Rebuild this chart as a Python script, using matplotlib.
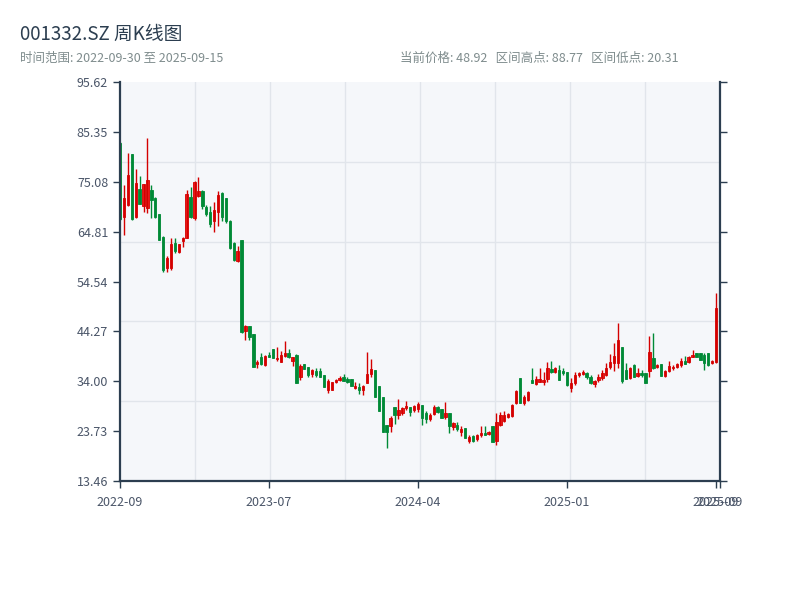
import numpy as np
import matplotlib
matplotlib.use('Agg')
import matplotlib.pyplot as plt

plt.rcParams['font.family'] = ['Noto Sans CJK SC', 'DejaVu Sans']

'''Weekly OHLC read off the chart'''
opens = [83.1, 67.9, 70.3, 80.8, 67.8, 73.5, 70.0, 69.6, 73.4, 71.7,
         68.4, 63.8, 57.3, 57.3, 62.4, 60.7, 62.8, 63.6, 72.0, 67.6,
         72.2, 73.2, 69.9, 68.9, 66.9, 68.9, 72.7, 71.7, 67.0, 62.4,
         58.8, 63.1, 44.4, 45.4, 43.7, 37.5, 39.1, 37.4, 39.5, 40.6,
         38.6, 38.0, 39.2, 39.8, 38.2, 39.4, 34.95, 37.6, 36.9, 35.4,
         36.1, 36.1, 35.3, 32.3, 32.2, 33.9, 34.3, 34.8, 34.5, 34.4,
         32.7, 32.9, 32.1, 33.6, 35.5, 36.3, 33.0, 30.7, 25.0, 24.7,
         28.6, 27.1, 27.5, 28.4, 28.6, 28.1, 28.2, 29.1, 27.5, 26.2,
         27.3, 28.6, 28.2, 26.6, 27.5, 24.5, 25.0, 23.6, 24.3, 21.7,
         22.7, 22.1, 23.0, 23.4, 23.2, 24.7, 21.6, 25.0, 25.9, 26.7,
         26.9, 29.6, 34.6, 29.5, 30.1, 34.3, 33.4, 33.9, 33.9, 34.4,
         36.5, 36.0, 36.3, 36.2, 35.9, 32.6, 33.6, 35.3, 35.5, 35.8,
         34.95, 33.4, 34.3, 34.6, 35.3, 36.9, 37.8, 37.8, 41.1, 36.3,
         34.6, 37.3, 35.1, 35.6, 35.6, 36.2, 38.7, 36.9, 37.5, 35.1,
         36.2, 36.7, 36.9, 37.3, 38.2, 38.0, 39.1, 39.9, 39.9, 39.4,
         39.8, 37.7, 38.0, 48.8]
highs = [83.3, 74.4, 81.1, 80.8, 77.7, 76.3, 74.6, 84.1, 74.4, 72.0,
         68.4, 64.0, 59.8, 63.4, 63.4, 62.3, 63.8, 73.4, 74.1, 75.2,
         76.1, 73.4, 70.3, 70.1, 71.0, 73.2, 73.0, 71.7, 67.2, 62.6,
         61.8, 63.1, 45.6, 45.4, 43.7, 38.4, 39.9, 39.4, 40.0, 40.6,
         41.0, 40.2, 42.3, 40.6, 39.1, 39.6, 37.5, 37.6, 36.9, 36.5,
         36.7, 36.7, 35.3, 34.4, 33.9, 34.4, 35.1, 35.5, 34.95, 34.4,
         33.9, 33.6, 33.2, 40.0, 38.5, 36.3, 33.0, 30.8, 25.0, 26.9,
         28.6, 30.3, 28.6, 30.0, 28.6, 29.1, 29.7, 29.1, 27.9, 27.4,
         29.1, 28.9, 28.3, 29.8, 27.5, 25.7, 25.7, 24.8, 24.3, 22.9,
         22.9, 23.1, 24.7, 24.8, 23.8, 24.7, 27.4, 27.7, 27.9, 27.5,
         29.3, 32.2, 34.6, 31.2, 31.9, 36.7, 35.1, 36.7, 36.0, 38.0,
         38.2, 37.0, 37.4, 36.7, 35.9, 34.6, 36.0, 36.0, 36.3, 36.0,
         35.3, 34.3, 35.4, 36.3, 37.7, 39.6, 41.9, 45.9, 41.1, 37.8,
         36.9, 37.5, 36.7, 36.3, 35.6, 43.3, 44.0, 37.5, 37.5, 36.3,
         38.2, 37.3, 37.7, 38.7, 39.2, 39.2, 40.4, 39.9, 39.9, 39.9,
         39.9, 38.3, 52.1, 50.0]
lows = [67.2, 64.1, 70.1, 67.3, 67.6, 70.4, 68.9, 68.6, 67.7, 67.7,
        63.0, 56.4, 56.6, 56.9, 60.5, 60.5, 61.7, 63.4, 67.6, 67.3,
        72.0, 69.4, 68.0, 65.8, 64.8, 66.0, 67.1, 66.5, 61.2, 58.8,
        58.6, 43.9, 42.5, 42.4, 36.9, 36.7, 37.3, 37.1, 38.9, 38.7,
        38.2, 38.0, 39.1, 38.7, 37.1, 33.6, 34.3, 36.5, 34.8, 34.95,
        34.95, 34.8, 32.8, 31.5, 32.1, 33.6, 34.1, 34.1, 33.7, 33.1,
        32.4, 31.4, 31.1, 33.6, 34.95, 30.8, 27.9, 23.6, 20.31, 23.6,
        25.2, 26.2, 27.1, 28.1, 26.9, 27.7, 27.7, 25.0, 25.5, 25.9,
        27.1, 27.5, 26.4, 26.2, 23.4, 24.0, 23.8, 22.7, 22.3, 21.2,
        21.4, 21.6, 22.6, 22.9, 22.9, 21.4, 20.9, 24.7, 25.7, 26.4,
        26.6, 29.3, 29.6, 29.1, 29.9, 33.6, 33.2, 33.9, 33.2, 33.9,
        35.8, 35.6, 34.3, 35.3, 33.0, 31.7, 33.2, 34.95, 35.3, 34.4,
        33.4, 32.9, 33.9, 34.3, 35.1, 36.5, 36.2, 36.7, 33.7, 34.4,
        34.4, 34.95, 34.95, 34.95, 33.7, 34.95, 36.5, 36.7, 35.1, 34.95,
        36.0, 36.3, 36.7, 37.0, 37.6, 37.8, 38.9, 38.9, 38.4, 36.3,
        37.1, 37.6, 37.8, 48.7]
closes = [67.4, 71.7, 76.5, 67.5, 74.8, 70.5, 74.6, 75.4, 71.3, 67.8,
          63.1, 57.0, 59.4, 62.2, 60.9, 62.3, 63.6, 72.5, 67.8, 75.1,
          73.2, 70.1, 68.4, 66.4, 69.3, 72.4, 67.9, 67.0, 61.5, 59.0,
          60.9, 44.2, 45.4, 43.2, 37.0, 38.0, 37.5, 39.3, 39.1, 38.7,
          38.8, 39.4, 39.8, 39.1, 38.9, 33.7, 37.15, 36.5, 35.3, 36.3,
          35.3, 34.95, 32.8, 34.1, 33.8, 34.3, 34.7, 34.1, 33.9, 33.1,
          33.1, 32.2, 33.1, 35.4, 36.5, 30.8, 27.9, 23.6, 23.6, 26.4,
          27.0, 28.1, 28.4, 28.9, 27.7, 28.9, 29.3, 26.4, 26.2, 27.1,
          28.8, 27.7, 26.5, 27.5, 24.7, 25.4, 24.1, 24.1, 22.3, 22.6,
          21.6, 22.9, 23.4, 23.0, 23.6, 21.4, 25.7, 27.1, 27.1, 27.3,
          29.1, 31.9, 29.6, 30.8, 31.7, 33.6, 34.4, 34.4, 34.3, 36.7,
          36.0, 36.7, 34.3, 35.6, 33.2, 33.7, 35.3, 35.8, 36.0, 34.8,
          33.6, 34.1, 34.95, 35.6, 36.7, 38.0, 39.2, 42.5, 34.0, 34.4,
          36.7, 34.95, 35.6, 35.2, 33.7, 40.1, 36.7, 37.3, 35.1, 36.2,
          37.1, 37.0, 37.6, 38.2, 37.6, 38.9, 39.4, 38.9, 38.4, 37.8,
          37.3, 38.2, 49.0, 48.92]

xtick_labels = ['2022-09', '2023-07', '2024-04', '2025-01', '2025-09', '2025-09']
ytick_values = [13.46, 23.73, 34.00, 44.27, 54.54, 64.81, 75.08, 85.35, 95.62]

title = '001332.SZ 周K线图'
subtitle = '时间范围: 2022-09-30 至 2025-09-15'
stats = '当前价格: 48.92   区间高点: 88.77   区间低点: 20.31'

up_color = '#d40000'
up_fill = '#ee1c1c'
down_color = '#008a36'

o = np.array(opens)
h = np.array(highs)
l = np.array(lows)
c = np.array(closes)
n = len(c)
x = np.arange(n)
up = c >= o

fig = plt.figure(figsize=(8, 6), dpi=100)
rect = [0.15, 0.1983, 0.75, 0.665]

# background grid (equal divisions, independent of the price ticks)
bg = fig.add_axes(rect, zorder=0)
bg.set_facecolor('#f5f7fa')
bg.set_xlim(0, 1)
bg.set_ylim(0, 1)
bg.set_xticks(np.arange(1, 8) / 8)
bg.set_yticks(np.arange(1, 5) / 5)
bg.grid(True, color='#e1e5eb', linewidth=1)
bg.tick_params(length=0, labelbottom=False, labelleft=False)
for s in bg.spines.values():
    s.set_visible(False)

ax = fig.add_axes(rect, zorder=1)
ax.set_facecolor('none')

ax.vlines(x[up], l[up], h[up], color=up_color, linewidth=1)
ax.vlines(x[~up], l[~up], h[~up], color=down_color, linewidth=1)
body_h = np.maximum(np.abs(c - o), 0.15)
ax.bar(x[up], body_h[up], bottom=o[up], width=0.6, color=up_fill,
       edgecolor=up_color, linewidth=0.6)
ax.bar(x[~up], body_h[~up], bottom=c[~up], width=0.6, color=down_color,
       edgecolor=down_color, linewidth=0.6)

ax.set_xlim(0, n - 1)
ax.set_ylim(ytick_values[0], ytick_values[-1])
ax.set_yticks(ytick_values)
ax.set_yticklabels(['%.2f' % v for v in ytick_values])
step = (n - 1) // 4
ax.set_xticks([0, step, 2 * step, 3 * step, 4 * step, n - 1])
ax.set_xticklabels(xtick_labels)

for side in ['left', 'bottom', 'right']:
    ax.spines[side].set_color('#2c3e50')
    ax.spines[side].set_linewidth(1.6)
ax.spines['top'].set_visible(False)
ax.tick_params(axis='both', colors='#2c3e50', labelcolor='#4a5568',
               labelsize=9, length=5, width=1)
ax.tick_params(axis='y', right=True)
ax.tick_params(axis='x', pad=6)

fig.text(0.025, 0.943, title, fontsize=13.5, color='#2c3e50', va='center')
fig.text(0.025, 0.903, subtitle, fontsize=9, color='#7f8c8d', va='center')
fig.text(0.5, 0.903, stats, fontsize=9, color='#7f8c8d', va='center')

plt.savefig('out.png', dpi=100)
